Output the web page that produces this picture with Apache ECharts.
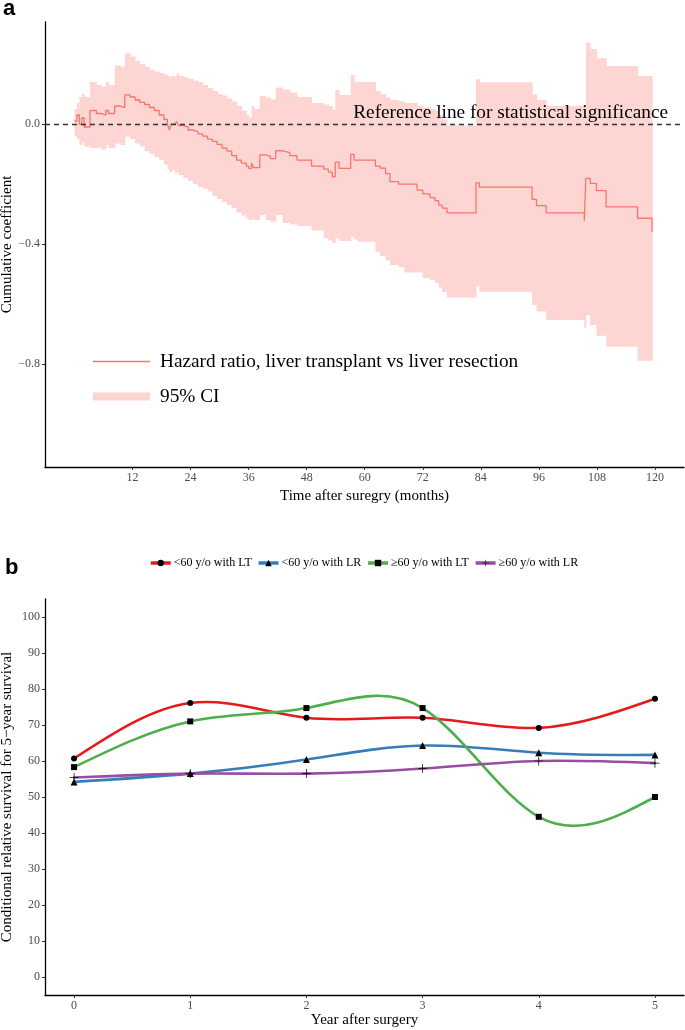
<!DOCTYPE html>
<html>
<head>
<meta charset="utf-8">
<script src="https://cdn.jsdelivr.net/npm/echarts@6/dist/echarts.min.js"></script>
<style>
  html, body { margin: 0; padding: 0; background: #fff; }
  #chart { width: 685px; height: 1030px; }
</style>
</head>
<body>
<div id="chart"></div>
<script>
// panel a: cumulative coefficient over time (step function) with 95% CI
var months = [
  0, 0.5, 1, 1.5, 2,
  3.2, 4.5, 5.5, 6.5, 7,
  8.3, 9.5, 10.4, 11.5, 12.5,
  13.5, 14.5, 15.5, 16.5, 17.5,
  18.5, 19.2, 19.6, 20, 20.8,
  21.1, 21.5, 22.5, 23.5, 24.5,
  25.5, 26.5, 27.5, 28.5, 29.5,
  30.5, 31.5, 32.5, 33.5, 34.5,
  35.5, 36, 36.6, 37, 38.3,
  39.5, 40.5, 41.6, 43, 44.5,
  46, 49, 51.5, 52.5, 53.3,
  53.9, 54.7, 57.1, 57.8, 58.6,
  62.2, 63.2, 64.3, 65.2, 67,
  68.2, 70.8, 72, 73.5, 74.5,
  75.3, 76, 77, 83, 83.7,
  94.6, 95.5, 97.5, 105.4, 105.7,
  106.6, 107.9, 109.9, 116.4, 119.4
];
var coef = [
  0.01, 0.03, 0.0, 0.02, -0.01,
  0.045, 0.035, 0.03, 0.045, 0.035,
  0.06, 0.055, 0.097, 0.09, 0.08,
  0.072, 0.065, 0.055, 0.045, 0.03,
  0.015, 0.0, -0.02, 0.0, -0.005,
  0.008, -0.005, -0.01, -0.02, -0.025,
  -0.033, -0.04, -0.05, -0.058, -0.068,
  -0.08, -0.09, -0.105, -0.12, -0.13,
  -0.14, -0.148, -0.13, -0.145, -0.103,
  -0.108, -0.115, -0.089, -0.095, -0.105,
  -0.12, -0.14, -0.15, -0.16, -0.176,
  -0.127, -0.148, -0.101, -0.12, -0.12,
  -0.14, -0.147, -0.165, -0.192, -0.2,
  -0.2, -0.22, -0.233, -0.245, -0.255,
  -0.27, -0.28, -0.296, -0.196, -0.21,
  -0.251, -0.272, -0.296, -0.322, -0.181,
  -0.198, -0.222, -0.276, -0.314, -0.359
];
var ciLow = [
  -0.04, -0.05, -0.07, -0.06, -0.075,
  -0.08, -0.08, -0.085, -0.07, -0.08,
  -0.065, -0.07, -0.042, -0.05, -0.065,
  -0.075, -0.09, -0.1, -0.11, -0.12,
  -0.135, -0.15, -0.16, -0.155, -0.165,
  -0.16, -0.17, -0.18, -0.19, -0.2,
  -0.21, -0.215, -0.225, -0.24, -0.25,
  -0.26, -0.27, -0.28, -0.295, -0.305,
  -0.315, -0.32, -0.315, -0.32, -0.303,
  -0.32, -0.325, -0.303, -0.33, -0.335,
  -0.34, -0.355, -0.38, -0.388, -0.396,
  -0.381, -0.39, -0.376, -0.385, -0.392,
  -0.426, -0.44, -0.455, -0.47, -0.477,
  -0.495, -0.495, -0.514, -0.52, -0.53,
  -0.545, -0.56, -0.578, -0.54, -0.559,
  -0.603, -0.625, -0.653, -0.681, -0.637,
  -0.67, -0.706, -0.742, -0.789, -0.789
];
var ciHigh = [
  0.05, 0.07, 0.09, 0.1, 0.09,
  0.14, 0.13, 0.125, 0.14, 0.13,
  0.195, 0.19, 0.236, 0.225, 0.21,
  0.2, 0.19, 0.18, 0.175, 0.17,
  0.165, 0.16, 0.155, 0.16, 0.158,
  0.168, 0.16, 0.155, 0.15, 0.145,
  0.14, 0.13, 0.12, 0.11, 0.1,
  0.095, 0.085, 0.075, 0.06, 0.045,
  0.03, 0.019, 0.06, 0.05, 0.093,
  0.088, 0.082, 0.122, 0.115, 0.105,
  0.09, 0.07, 0.065, 0.06, 0.047,
  0.113, 0.097, 0.163, 0.14, 0.14,
  0.11, 0.1, 0.088, 0.08, 0.075,
  0.07, 0.06, 0.055, 0.05, 0.045,
  0.03, 0.015, -0.005, 0.149, 0.139,
  0.099, 0.08, 0.06, 0.06, 0.272,
  0.25, 0.219, 0.193, 0.16, 0.16
];
var monthTicks = [12, 24, 36, 48, 60, 72, 84, 96, 108, 120];
var coefTicks = [0, -0.4, -0.8];

// panel b: conditional relative survival
var years = [0, 1, 2, 3, 4, 5];
var youngLT = [60.7, 76.1, 72.0, 72.0, 69.2, 77.3];
var youngLR = [54.2, 56.5, 60.4, 64.3, 62.3, 61.7];
var oldLT = [58.3, 71.0, 74.7, 74.7, 44.5, 50.0];
var oldLR = [55.4, 56.5, 56.5, 57.9, 60.0, 59.4];
var survivalTicks = [0, 10, 20, 30, 40, 50, 60, 70, 80, 90, 100];

var SERIF = '"Liberation Serif", "DejaVu Serif", serif';
var HR_RED = '#F8766D';
var CI_FILL = '#FDD6D3';
var HR_NAME = 'Hazard ratio, liver transplant vs liver resection';
var CI_NAME = '95% CI';
var PLUS = 'path://M4.6,0H5.4V4.6H10V5.4H5.4V10H4.6V5.4H0V4.6H4.6Z';

var chart = echarts.init(document.getElementById('chart'));

var coefData = months.map(function (m, i) { return [m, coef[i]]; });
var bandData = months.slice(0, -1).map(function (m, i) {
  return [m, months[i + 1], ciLow[i], ciHigh[i]];
});

function renderBand(params, api) {
  var tl = api.coord([api.value(0), api.value(3)]);
  var br = api.coord([api.value(1), api.value(2)]);
  return {
    type: 'rect',
    shape: { x: tl[0], y: tl[1], width: br[0] - tl[0] + 0.6, height: br[1] - tl[1] },
    style: { fill: CI_FILL }
  };
}

// tangents of a natural cubic spline through the points (ggplot drew smoothed curves)
function splineSlopes(xs, ys) {
  var n = xs.length, h = [], M = new Array(n).fill(0);
  for (var i = 0; i < n - 1; i++) h.push(xs[i + 1] - xs[i]);
  var a = [], b = [], c = [], d = [];
  for (i = 1; i < n - 1; i++) {
    a.push(h[i - 1]); b.push(2 * (h[i - 1] + h[i])); c.push(h[i]);
    d.push(6 * ((ys[i + 1] - ys[i]) / h[i] - (ys[i] - ys[i - 1]) / h[i - 1]));
  }
  var m = b.length;
  for (i = 1; i < m; i++) {
    var w = a[i] / b[i - 1];
    b[i] -= w * c[i - 1];
    d[i] -= w * d[i - 1];
  }
  for (i = m - 1; i >= 0; i--) {
    M[i + 1] = (d[i] - (i < m - 1 ? c[i] * M[i + 2] : 0)) / b[i];
  }
  var slopes = [];
  for (i = 0; i < n - 1; i++) {
    slopes.push((ys[i + 1] - ys[i]) / h[i] - h[i] * (2 * M[i] + M[i + 1]) / 6);
  }
  slopes.push((ys[n - 1] - ys[n - 2]) / h[n - 2] + h[n - 2] * (M[n - 2] + 2 * M[n - 1]) / 6);
  return slopes;
}

function valueAxis(gridIndex, min, max, ticks, name, nameGap, formatter) {
  return {
    type: 'value',
    gridIndex: gridIndex,
    min: min,
    max: max,
    name: name,
    nameLocation: 'middle',
    nameGap: nameGap,
    nameMoveOverlap: false,
    nameTextStyle: { fontFamily: SERIF, fontSize: 15, color: '#000' },
    axisLine: { show: true, onZero: false, lineStyle: { color: '#000', width: 1.3 } },
    axisTick: { show: true, customValues: ticks, length: 3, lineStyle: { color: '#333', width: 1 } },
    axisLabel: {
      customValues: ticks, color: '#4D4D4D', fontFamily: SERIF, fontSize: 12, margin: 5,
      formatter: formatter
    },
    splitLine: { show: false }
  };
}

function fmtCoef(v) {
  return v === 0 ? '0.0' : '\u2212' + Math.abs(v).toFixed(1);
}

// markers (and legend entry) of one survival group
function survivalPoints(name, values, color, symbol, size) {
  return {
    name: name,
    type: 'line',
    xAxisIndex: 1,
    yAxisIndex: 1,
    data: years.map(function (y, i) { return [y, values[i]]; }),
    symbol: symbol,
    symbolSize: size,
    itemStyle: { color: '#000' },
    lineStyle: { color: color, width: 3, opacity: 0 },
    z: 4
  };
}

// smooth curve of one survival group
function survivalCurve(values, color) {
  var slopes = splineSlopes(years, values);
  return {
    type: 'custom',
    xAxisIndex: 1,
    yAxisIndex: 1,
    silent: true,
    data: years.map(function (y, i) { return [y, values[i]]; }),
    encode: { x: 0, y: 1 },
    z: 3,
    renderItem: function (params, api) {
      var i = params.dataIndex;
      if (i >= years.length - 1) return null;
      var hx = (years[i + 1] - years[i]) / 3;
      var p0 = api.coord([years[i], values[i]]);
      var p1 = api.coord([years[i + 1], values[i + 1]]);
      var c0 = api.coord([years[i] + hx, values[i] + hx * slopes[i]]);
      var c1 = api.coord([years[i + 1] - hx, values[i + 1] - hx * slopes[i + 1]]);
      return {
        type: 'bezierCurve',
        shape: { x1: p0[0], y1: p0[1], x2: p1[0], y2: p1[1], cpx1: c0[0], cpy1: c0[1], cpx2: c1[0], cpy2: c1[1] },
        style: { stroke: color, lineWidth: 2.6, fill: null, lineCap: 'round' }
      };
    }
  };
}

var LT_Y = '<60 y/o with LT', LR_Y = '<60 y/o with LR';
var LT_O = '\u226560 y/o with LT', LR_O = '\u226560 y/o with LR';

chart.setOption({
  animation: false,
  backgroundColor: '#fff',
  textStyle: { fontFamily: SERIF },
  grid: [
    { left: 45, top: 22, width: 639, height: 445, containLabel: false, outerBoundsMode: 'none' },
    { left: 45, top: 599, width: 639, height: 396, containLabel: false, outerBoundsMode: 'none' }
  ],
  xAxis: [
    valueAxis(0, -6.1, 126, monthTicks, 'Time after suregry (months)', 22),
    valueAxis(1, -0.25, 5.25, years, 'Year after surgery', 18)
  ],
  yAxis: [
    valueAxis(0, -1.143, 0.34, coefTicks, 'Cumulative coefficient', 30, fmtCoef),
    valueAxis(1, -5, 105, survivalTicks, 'Conditional relative survival for 5\u2212year survival', 30)
  ],
  legend: [
    {
      data: [{ name: HR_NAME, icon: 'rect' }],
      left: 93, top: 352, padding: 0,
      itemWidth: 57, itemHeight: 1.6,
      selectedMode: false,
      textStyle: { fontFamily: SERIF, fontSize: 19.3, color: '#000', padding: [0, 0, 0, 5] }
    },
    {
      data: [{ name: CI_NAME, icon: 'rect' }],
      left: 93, top: 387, padding: 0,
      itemWidth: 57, itemHeight: 8,
      selectedMode: false,
      textStyle: { fontFamily: SERIF, fontSize: 19.3, color: '#000', padding: [0, 0, 0, 5] }
    },
    {
      data: [LT_Y, LR_Y, LT_O, LR_O],
      left: 149, top: 557, padding: 0,
      itemWidth: 20, itemHeight: 8, itemGap: 5,
      selectedMode: false,
      lineStyle: { opacity: 1, width: 3.5 },
      textStyle: { fontFamily: SERIF, fontSize: 12, color: '#000', padding: [0, 0, 0, -2] }
    }
  ],
  graphic: [
    { type: 'text', left: 3, top: -2, style: { text: 'a', font: 'bold 22px "Liberation Sans", Arial, sans-serif', fill: '#000' } },
    { type: 'text', left: 5, top: 557, style: { text: 'b', font: 'bold 22px "Liberation Sans", Arial, sans-serif', fill: '#000' } }
  ],
  series: [
    {
      name: CI_NAME,
      type: 'custom',
      xAxisIndex: 0,
      yAxisIndex: 0,
      renderItem: renderBand,
      data: bandData,
      encode: { x: [0, 1], y: [2, 3] },
      itemStyle: { color: CI_FILL },
      silent: true,
      z: 1
    },
    {
      name: HR_NAME,
      type: 'line',
      xAxisIndex: 0,
      yAxisIndex: 0,
      step: 'end',
      data: coefData,
      symbol: 'none',
      itemStyle: { color: HR_RED },
      lineStyle: { color: HR_RED, width: 1.3 },
      z: 3,
      markLine: {
        silent: true,
        symbol: ['none', 'none'],
        data: [{ yAxis: 0 }],
        lineStyle: { type: [5, 4], color: '#333', width: 1.4 },
        label: {
          show: true,
          position: 'insideEndTop',
          formatter: 'Reference line for statistical significance',
          fontFamily: SERIF,
          fontSize: 19.3,
          color: '#000',
          distance: [16, 2]
        }
      }
    },
    survivalCurve(youngLT, '#E41A1C'),
    survivalCurve(youngLR, '#377EB8'),
    survivalCurve(oldLT, '#4DAF4A'),
    survivalCurve(oldLR, '#984EA3'),
    survivalPoints(LT_Y, youngLT, '#E41A1C', 'circle', 6),
    survivalPoints(LR_Y, youngLR, '#377EB8', 'triangle', 7),
    survivalPoints(LT_O, oldLT, '#4DAF4A', 'rect', 6),
    survivalPoints(LR_O, oldLR, '#984EA3', PLUS, 9)
  ]
});
</script>
</body>
</html>
